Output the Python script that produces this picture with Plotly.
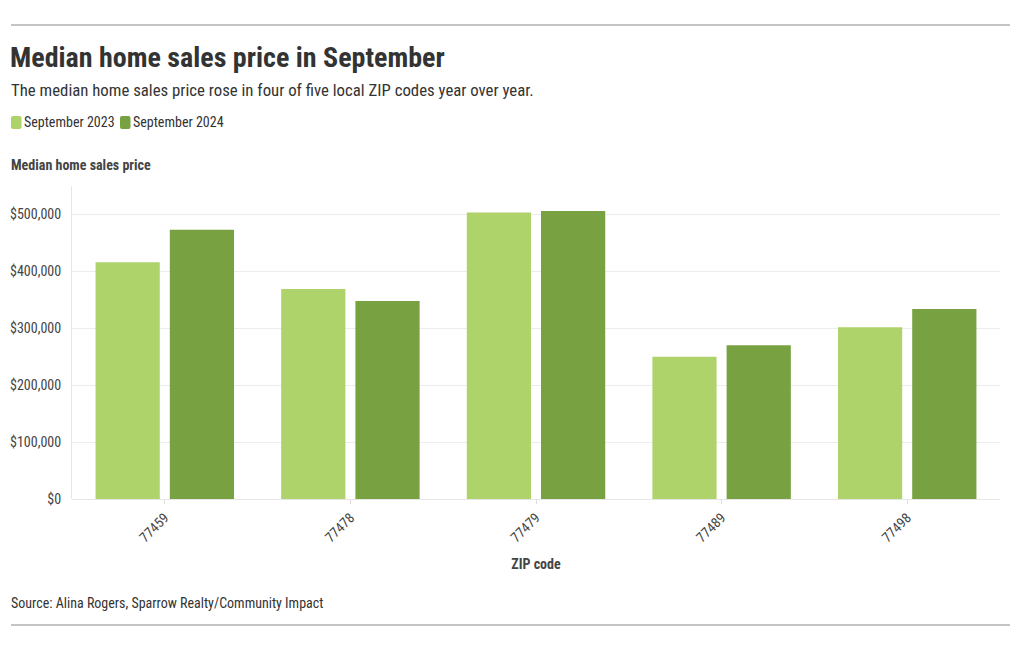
import plotly.graph_objects as go

zip_codes = ["77459", "77478", "77479", "77489", "77498"]
series_names = ["September 2023", "September 2024"]
sep_2023 = [416000, 369000, 503500, 250000, 302000]
sep_2024 = [473000, 348000, 506000, 270000, 334000]
y_tick_vals = [0, 100000, 200000, 300000, 400000, 500000]
y_tick_text = ["$0", "$100,000", "$200,000", "$300,000", "$400,000", "$500,000"]

colors = ["#aed36b", "#78a141"]
FONT = "Roboto Condensed, Liberation Sans Narrow, Roboto, sans-serif"
TXT = "#333333"

OFF = 8  # page body margin
W, H = 1020 - 2 * OFF, 650 - 2 * OFF
# plot area in reference (page) pixels
PL, PR, PT, PB = 72, 1000, 186, 499
L, R, T = PL - OFF, W - (PR - OFF), PT - OFF
B = H - (PB - OFF)
PW, PH = PR - PL, PB - PT


def px(x):
    return (x - PL) / PW


def py(y):
    return (PB - y) / PH


def rounded_rect(x0, y0, x1, y1, r):
    # page-pixel coords -> paper-coord SVG path with rounded corners
    pts = []
    pts.append(f"M {px(x0 + r)} {py(y0)}")
    pts.append(f"L {px(x1 - r)} {py(y0)}")
    pts.append(f"Q {px(x1)} {py(y0)} {px(x1)} {py(y0 + r)}")
    pts.append(f"L {px(x1)} {py(y1 - r)}")
    pts.append(f"Q {px(x1)} {py(y1)} {px(x1 - r)} {py(y1)}")
    pts.append(f"L {px(x0 + r)} {py(y1)}")
    pts.append(f"Q {px(x0)} {py(y1)} {px(x0)} {py(y1 - r)}")
    pts.append(f"L {px(x0)} {py(y0 + r)}")
    pts.append(f"Q {px(x0)} {py(y0)} {px(x0 + r)} {py(y0)} Z")
    return " ".join(pts)


fig = go.Figure()
for name, vals, c in zip(series_names, [sep_2023, sep_2024], colors):
    fig.add_trace(go.Bar(
        x=zip_codes, y=vals, name=name,
        marker=dict(color=c, line=dict(width=0)),
        hovertemplate="%{x}: $%{y:,.0f}<extra>" + name + "</extra>",
    ))

annotations = [
    dict(text="<b>Median home sales price in September</b>", x=px(9), y=py(57),
         font=dict(size=28, color=TXT, family=FONT)),
    dict(text="The median home sales price rose in four of five local ZIP codes year over year.",
         x=px(10), y=py(90), font=dict(size=16.8, color=TXT, family=FONT)),
    dict(text="<b>Median home sales price</b>", x=px(10), y=py(165),
         font=dict(size=14, color="#444444", family=FONT)),
    dict(text="Source: Alina Rogers, Sparrow Realty/Community Impact", x=px(10), y=py(603),
         font=dict(size=14, color=TXT, family=FONT)),
]
for a in annotations:
    a.update(xref="paper", yref="paper", xanchor="left", yanchor="middle", showarrow=False,
             borderpad=0)

shapes = [
    dict(type="line", xref="paper", yref="paper", x0=px(11), x1=px(1010), y0=py(25), y1=py(25),
         line=dict(color="#8a8a8a", width=1)),
    dict(type="line", xref="paper", yref="paper", x0=px(11), x1=px(1010), y0=py(625), y1=py(625),
         line=dict(color="#8a8a8a", width=1)),
]

# custom legend
leg_x = [11, 120]
for name, c, lx in zip(series_names, colors, leg_x):
    shapes.append(dict(type="path", xref="paper", yref="paper",
                       path=rounded_rect(lx, 116, lx + 10.5, 129, 2),
                       fillcolor=c, line=dict(width=0)))
    annotations.append(dict(text=name, xref="paper", yref="paper", x=px(lx + 12), y=py(122),
                            xanchor="left", yanchor="middle", showarrow=False, borderpad=0,
                            font=dict(size=14, color=TXT, family=FONT)))

fig.update_layout(
    width=W, height=H,
    margin=dict(l=L, r=R, t=T, b=B, pad=0),
    paper_bgcolor="white", plot_bgcolor="white",
    barmode="group", bargap=0.2, bargroupgap=0.135,
    showlegend=False,
    font=dict(family=FONT, size=14, color=TXT),
    annotations=annotations, shapes=shapes,
    xaxis=dict(
        type="category", tickangle=-45, showgrid=False, automargin=False,
        showline=False, ticks="outside", ticklen=4, tickcolor="#dddddd",
        tickfont=dict(size=14, color="#444444", family=FONT),
        title=dict(text="<b>ZIP code</b>", font=dict(size=14, color="#444444", family=FONT), standoff=14),
    ),
    yaxis=dict(
        range=[0, 550000], tickvals=y_tick_vals, ticktext=y_tick_text, automargin=False,
        showgrid=True, gridcolor="#ececec", gridwidth=1,
        showline=True, linecolor="#e6e6e6", linewidth=1,
        zeroline=True, zerolinecolor="#e6e6e6", zerolinewidth=1,
        ticks="", ticklabelstandoff=7,
        tickfont=dict(size=14, color="#444444", family=FONT),
    ),
)

fig.write_html("out.html")
